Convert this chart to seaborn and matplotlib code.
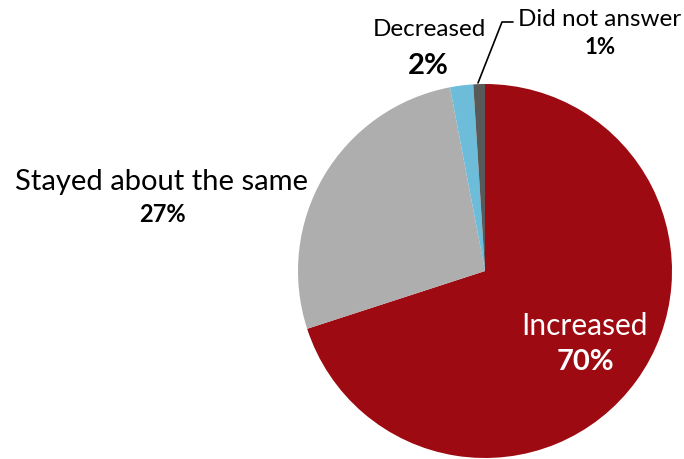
import matplotlib
matplotlib.use('Agg')
import matplotlib.pyplot as plt
import seaborn as sns

categorias = ['Increased', 'Stayed about the same', 'Decreased', 'Did not answer']
valores = [70, 27, 2, 1]
colores = ['#9E0A11', '#AEAEAE', '#6DBDDA', '#595959']

sns.set_style('white')
plt.rcParams['font.family'] = ['Lato', 'DejaVu Sans']

fig = plt.figure(figsize=(6.84, 4.6), dpi=100)
ax = fig.add_axes([0, 0, 1, 1])

ax.pie(valores, colors=colores, startangle=90, counterclock=False,
       center=(485, 188), radius=187, wedgeprops=dict(linewidth=0),
       frame=True)
ax.set_xlim(0, 684)
ax.set_ylim(0, 460)
ax.set_aspect('equal')
ax.axis('off')

# Increased
ax.text(585, 460 - 326, categorias[0], color='white', fontsize=21.5, ha='center', va='center')
ax.text(585, 460 - 362, f'{valores[0]}%', color='white', fontsize=21, fontweight='bold', ha='center', va='center')
# Stayed about the same
ax.text(161, 460 - 182, categorias[1], color='black', fontsize=21, ha='center', va='center')
ax.text(162, 460 - 215, f'{valores[1]}%', color='black', fontsize=17, fontweight='bold', ha='center', va='center')
# Decreased
ax.text(429, 460 - 30, categorias[2], color='black', fontsize=17.5, ha='center', va='center')
ax.text(428, 460 - 66, f'{valores[2]}%', color='black', fontsize=21, fontweight='bold', ha='center', va='center')
# Did not answer
ax.text(600, 460 - 20, categorias[3], color='black', fontsize=17.5, ha='center', va='center')
ax.text(600, 460 - 48, f'{valores[3]}%', color='black', fontsize=16, fontweight='bold', ha='center', va='center')
ax.plot([478, 502, 513], [460 - 84, 460 - 23, 460 - 23], color='black', linewidth=1.2)

fig.savefig('out.png', dpi=100)
